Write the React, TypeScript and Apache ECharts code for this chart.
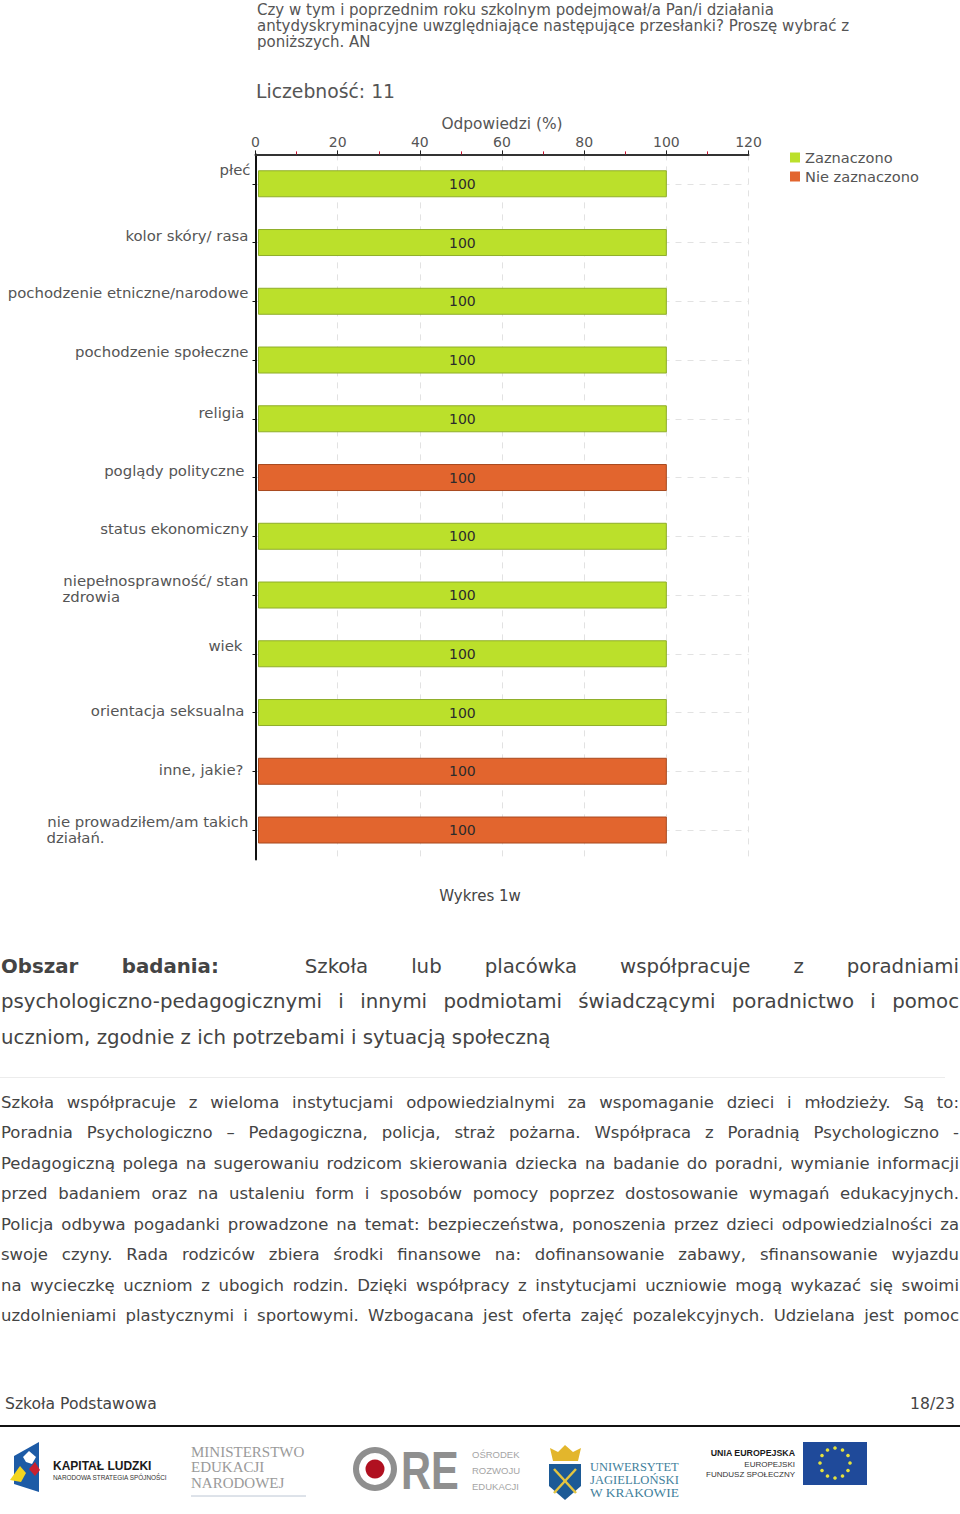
import React, { useEffect, useRef } from "react";
import * as echarts from "echarts";

const FONT = "'DejaVu Sans', Verdana, sans-serif";
const SERIF = "'Liberation Serif', serif";
const SANS = "'Liberation Sans', Arial, sans-serif";

const titleLines = [
  "Czy w tym i poprzednim roku szkolnym podejmował/a Pan/i działania",
  "antydyskryminacyjne uwzględniające następujące przesłanki? Proszę wybrać z",
  "poniższych. AN",
];
const countLabel = "Liczebność: 11";
const axisName = "Odpowiedzi (%)";
const caption = "Wykres 1w";
const categories = [
  "płeć",
  "kolor skóry/ rasa",
  "pochodzenie etniczne/narodowe",
  "pochodzenie społeczne",
  "religia",
  "poglądy polityczne",
  "status ekonomiczny",
  "niepełnosprawność/ stan\nzdrowia",
  "wiek",
  "orientacja seksualna",
  "inne, jakie?",
  "nie prowadziłem/am takich\ndziałań.",
];
const zaznaczono = [100, 100, 100, 100, 100, null, 100, 100, 100, 100, null, null];
const nieZaznaczono = [null, null, null, null, null, 100, null, null, null, null, 100, 100];
// label nudges: [right padding, vertical shift]
const labelNudges = [
  [0, -14], [2, -7], [2, -8], [2, -8], [6, -6], [6, -7],
  [2, -7], [2, -6], [8, -8], [6, -2], [7, -1], [2, 0],
];

const headingLines = [
  "Szkoła lub placówka współpracuje z poradniami",
  "psychologiczno-pedagogicznymi i innymi podmiotami świadczącymi poradnictwo i pomoc",
  "uczniom, zgodnie z ich potrzebami i sytuacją społeczną",
];
const bodyLines = [
  "Szkoła współpracuje z wieloma instytucjami odpowiedzialnymi za wspomaganie dzieci i młodzieży. Są to:",
  "Poradnia Psychologiczno – Pedagogiczna, policja, straż pożarna. Współpraca z Poradnią Psychologiczno -",
  "Pedagogiczną polega na sugerowaniu rodzicom skierowania dziecka na badanie do poradni, wymianie informacji",
  "przed badaniem oraz na ustaleniu form i sposobów pomocy poprzez dostosowanie wymagań edukacyjnych.",
  "Policja odbywa pogadanki prowadzone na temat: bezpieczeństwa, ponoszenia przez dzieci odpowiedzialności za",
  "swoje czyny. Rada rodziców zbiera środki finansowe na: dofinansowanie zabawy, sfinansowanie wyjazdu",
  "na wycieczkę uczniom z ubogich rodzin. Dzięki współpracy z instytucjami uczniowie mogą wykazać się swoimi",
  "uzdolnieniami plastycznymi i sportowymi. Wzbogacana jest oferta zajęć pozalekcyjnych. Udzielana jest pomoc",
];
const bodyTops = [1103, 1133, 1164, 1194, 1225, 1255, 1286, 1316];
const headingTops = [967, 1002, 1038];

const GREEN = "#bbe02b";
const ORANGE = "#e2652e";
const TEXT = "#555";

function measure(text: string, font: string) {
  const c = document.createElement("canvas").getContext("2d")!;
  c.font = font;
  return c.measureText(text).width;
}

function barRenderer(fill: string, stroke: string) {
  return (_: any, api: any) => {
    const v = api.value(0);
    const cat = api.value(1);
    const start = api.coord([0, cat]);
    const end = api.coord([v, cat]);
    const h = 26;
    const x0 = start[0] + 3;
    return {
      type: "group",
      children: [
        {
          type: "rect",
          shape: { x: x0, y: start[1] - h / 2, width: end[0] - x0, height: h },
          style: { fill, stroke, lineWidth: 1 },
        },
        {
          type: "text",
          style: {
            x: (x0 + end[0]) / 2,
            y: start[1],
            text: String(v),
            fill: "#2b2b2b",
            font: `14px ${FONT}`,
            align: "center",
            verticalAlign: "middle",
          },
        },
      ],
    };
  };
}

function txt(x: number, y: number, text: string, font: string, fill: string, align = "left", extra: any = {}) {
  return {
    type: "text",
    x,
    y,
    silent: true,
    ...extra,
    style: { text, font, fill, align, verticalAlign: "middle" },
  };
}

function logos() {
  const stars = Array.from({ length: 12 }, (_, i) => {
    const a = (i * Math.PI) / 6;
    return {
      type: "circle",
      silent: true,
      shape: { cx: 835 + 15 * Math.sin(a), cy: 1463 - 15 * Math.cos(a), r: 1.8 },
      style: { fill: "#e6e23c" },
    };
  });
  return [
    // Kapitał Ludzki
    { type: "polygon", shape: { points: [[14, 1456], [39, 1442], [39, 1492], [14, 1484]] }, style: { fill: "#1d5ba6" } },
    { type: "polygon", shape: { points: [[29, 1451], [36, 1457], [32, 1464], [26, 1462], [23, 1457]] }, style: { fill: "#ffffff" } },
    { type: "polygon", shape: { points: [[20, 1466], [26, 1473], [21, 1482], [10, 1480], [15, 1473]] }, style: { fill: "#f3d51f" } },
    { type: "polygon", shape: { points: [[35, 1462], [40, 1470], [35, 1476], [29, 1469]] }, style: { fill: "#c8202f" } },
    txt(53, 1466, "KAPITAŁ LUDZKI", `bold 12px ${SANS}`, "#1a1a1a"),
    txt(53, 1477, "NARODOWA STRATEGIA SPÓJNOŚCI", `6.4px ${SANS}`, "#333"),
    // MEN
    txt(191, 1452, "MINISTERSTWO", `15px ${SERIF}`, "#9a9a9a"),
    txt(191, 1467, "EDUKACJI", `15px ${SERIF}`, "#9a9a9a"),
    txt(191, 1483, "NARODOWEJ", `15px ${SERIF}`, "#9a9a9a"),
    { type: "line", shape: { x1: 191, y1: 1496, x2: 306, y2: 1496 }, style: { stroke: "#bcc6d4", lineWidth: 1 } },
    // ORE
    { type: "ring", shape: { cx: 375, cy: 1469, r: 22, r0: 16 }, style: { fill: "#8f8f8f" } },
    { type: "circle", shape: { cx: 375, cy: 1469, r: 9.5 }, style: { fill: "#b01020" } },
    txt(401, 1470, "RE", `bold 54px ${SANS}`, "#8f8f8f", "left", { scaleX: 0.77 }),
    txt(472, 1454, "OŚRODEK", `9.5px ${SANS}`, "#a5a5a5"),
    txt(472, 1470, "ROZWOJU", `9.5px ${SANS}`, "#a5a5a5"),
    txt(472, 1486, "EDUKACJI", `9.5px ${SANS}`, "#a5a5a5"),
    // UJ
    { type: "polygon", shape: { points: [[550, 1448], [558, 1452], [565, 1445], [573, 1452], [581, 1448], [578, 1461], [553, 1461]] }, style: { fill: "#e3b62c" } },
    { type: "polygon", shape: { points: [[549, 1464], [581, 1464], [581, 1486], [565, 1500], [549, 1486]] }, style: { fill: "#1c5a96" } },
    { type: "line", shape: { x1: 554, y1: 1469, x2: 576, y2: 1493 }, style: { stroke: "#e3c440", lineWidth: 2.5 } },
    { type: "line", shape: { x1: 576, y1: 1469, x2: 554, y2: 1493 }, style: { stroke: "#e3c440", lineWidth: 2.5 } },
    txt(590, 1467, "UNIWERSYTET", `12px ${SERIF}`, "#3f7f9c", "left", { scaleX: 1.04 }),
    txt(590, 1480, "JAGIELLOŃSKI", `12px ${SERIF}`, "#3f7f9c", "left", { scaleX: 1.05 }),
    txt(590, 1493, "W KRAKOWIE", `12px ${SERIF}`, "#3f7f9c", "left", { scaleX: 1.12 }),
    // UE
    txt(795, 1453, "UNIA EUROPEJSKA", `bold 8.8px ${SANS}`, "#1a1a1a", "right"),
    txt(795, 1464, "EUROPEJSKI", `8px ${SANS}`, "#333", "right"),
    txt(795, 1474, "FUNDUSZ SPOŁECZNY", `8px ${SANS}`, "#333", "right"),
    { type: "rect", shape: { x: 803, y: 1442, width: 64, height: 43 }, style: { fill: "#1f4a9a" } },
    ...stars,
  ];
}

export default function App() {
  const ref = useRef<HTMLDivElement>(null);
  useEffect(() => {
    const chart = echarts.init(ref.current!, undefined, { renderer: "svg" });
    const labelFont = `14.9px ${FONT}`;
    const labelStyle = { fontFamily: FONT, fontSize: 14.9, color: TEXT, lineHeight: 16 };
    const rich: any = {};
    categories.forEach((c, i) => {
      const [right, dy] = labelNudges[i];
      const padding = [dy > 0 ? 2 * dy : 0, right, dy < 0 ? -2 * dy : 0, 0];
      const lines = c.split("\n");
      rich[`a${i}`] = { padding, ...labelStyle };
      if (lines[1]) {
        rich[`b${i}`] = {
          padding,
          ...labelStyle,
          width: Math.ceil(measure(lines[0], labelFont)),
          align: "left",
        };
      }
    });
    const toData = (values: (number | null)[]) =>
      values.map((v, i) => (v == null ? null : [v, i])).filter(Boolean);
    chart.setOption({
      animation: false,
      legend: {
        left: 785,
        top: 144,
        orient: "vertical",
        itemWidth: 10,
        itemHeight: 10,
        itemGap: 2,
        textStyle: { color: TEXT, fontFamily: FONT, fontSize: 14.6, lineHeight: 17 },
        data: [
          { name: "Zaznaczono", icon: "rect", itemStyle: { color: GREEN } },
          { name: "Nie zaznaczono", icon: "rect", itemStyle: { color: ORANGE } },
        ],
      },
      grid: { left: 255.5, top: 154.4, width: 493, height: 705, containLabel: false },
      xAxis: {
        type: "value",
        position: "top",
        min: 0,
        max: 120,
        interval: 20,
        name: axisName,
        nameLocation: "middle",
        nameGap: 23,
        nameTextStyle: { color: TEXT, fontFamily: FONT, fontSize: 15.4 },
        axisLine: { show: true, lineStyle: { color: "#333", width: 2 } },
        axisTick: { show: true, length: 4, lineStyle: { color: "#222", width: 1 } },
        minorTick: { show: true, splitNumber: 2, length: 3, lineStyle: { color: "#c8102e", width: 1 } },
        axisLabel: { color: TEXT, fontFamily: FONT, fontSize: 14, margin: 5 },
        splitLine: { show: true, lineStyle: { color: "#e2e2e2", type: [6, 6], width: 1 } },
      },
      yAxis: {
        type: "category",
        inverse: true,
        data: categories,
        axisLine: { show: true, onZero: false, lineStyle: { color: "#111", width: 2 } },
        axisTick: { show: true, length: 3, alignWithLabel: true, lineStyle: { color: "#111" } },
        axisLabel: {
          interval: 0,
          margin: 5,
          align: "right",
          rich,
          formatter: (v: string, i: number) => {
            const ls = v.split("\n");
            return ls.map((l, k) => `{${k === 0 ? "a" : "b"}${i}|${l}}`).join("\n");
          },
        },
        splitLine: { show: true, interval: 0, alignWithLabel: true, lineStyle: { color: "#e2e2e2", type: [6, 6], width: 1 } },
      },
      series: [
        {
          name: "Zaznaczono",
          type: "custom",
          coordinateSystem: "cartesian2d",
          encode: { x: 0, y: 1 },
          data: toData(zaznaczono),
          renderItem: barRenderer(GREEN, "#8fae2a"),
        },
        {
          name: "Nie zaznaczono",
          type: "custom",
          coordinateSystem: "cartesian2d",
          encode: { x: 0, y: 1 },
          data: toData(nieZaznaczono),
          renderItem: barRenderer(ORANGE, "#a84a20"),
        },
      ],
      graphic: [
        ...titleLines.map((t, i) => txt(257, 10 + i * 16, t, `15px ${FONT}`, TEXT)),
        txt(256, 91, countLabel, `18.8px ${FONT}`, TEXT),
        txt(480, 896, caption, `15px ${FONT}`, "#444", "center"),
        { type: "line", shape: { x1: 0, y1: 1077.5, x2: 945, y2: 1077.5 }, style: { stroke: "#ececec", lineWidth: 1 } },
        txt(5, 1403.5, "Szkoła Podstawowa", `15.6px ${FONT}`, "#444"),
        txt(955, 1403.5, "18/23", `15.6px ${FONT}`, "#444", "right"),
        { type: "line", shape: { x1: 0, y1: 1426, x2: 960, y2: 1426 }, style: { stroke: "#111", lineWidth: 2 } },
        ...logos(),
      ],
    });
    return () => chart.dispose();
  }, []);

  const lineStyle = (top: number, size: number, last = false): React.CSSProperties => ({
    position: "absolute",
    left: 1,
    top: top - 15,
    width: 958,
    height: 30,
    lineHeight: "30px",
    fontFamily: FONT,
    fontSize: size,
    color: "#444",
    textAlign: "justify",
    textAlignLast: last ? "left" : "justify",
    whiteSpace: last ? "nowrap" : "normal",
    overflow: "hidden",
  });

  return (
    <div style={{ position: "absolute", left: 0, top: 0, width: 960, height: 1514, background: "#fff", overflow: "hidden" }}>
      <div ref={ref} style={{ position: "absolute", left: 0, top: 0, width: 960, height: 1514 }} />
      {headingLines.map((l, i) => (
        <div key={i} style={lineStyle(headingTops[i], 19.75, i === 2)}>
          {i === 0 ? (
            <>
              <b>Obszar badania:</b>
              {"\u00a0 "}
            </>
          ) : null}
          {l}
        </div>
      ))}
      {bodyLines.map((l, i) => (
        <div key={i} style={lineStyle(bodyTops[i], 16.5)}>
          {l}
        </div>
      ))}
    </div>
  );
}
